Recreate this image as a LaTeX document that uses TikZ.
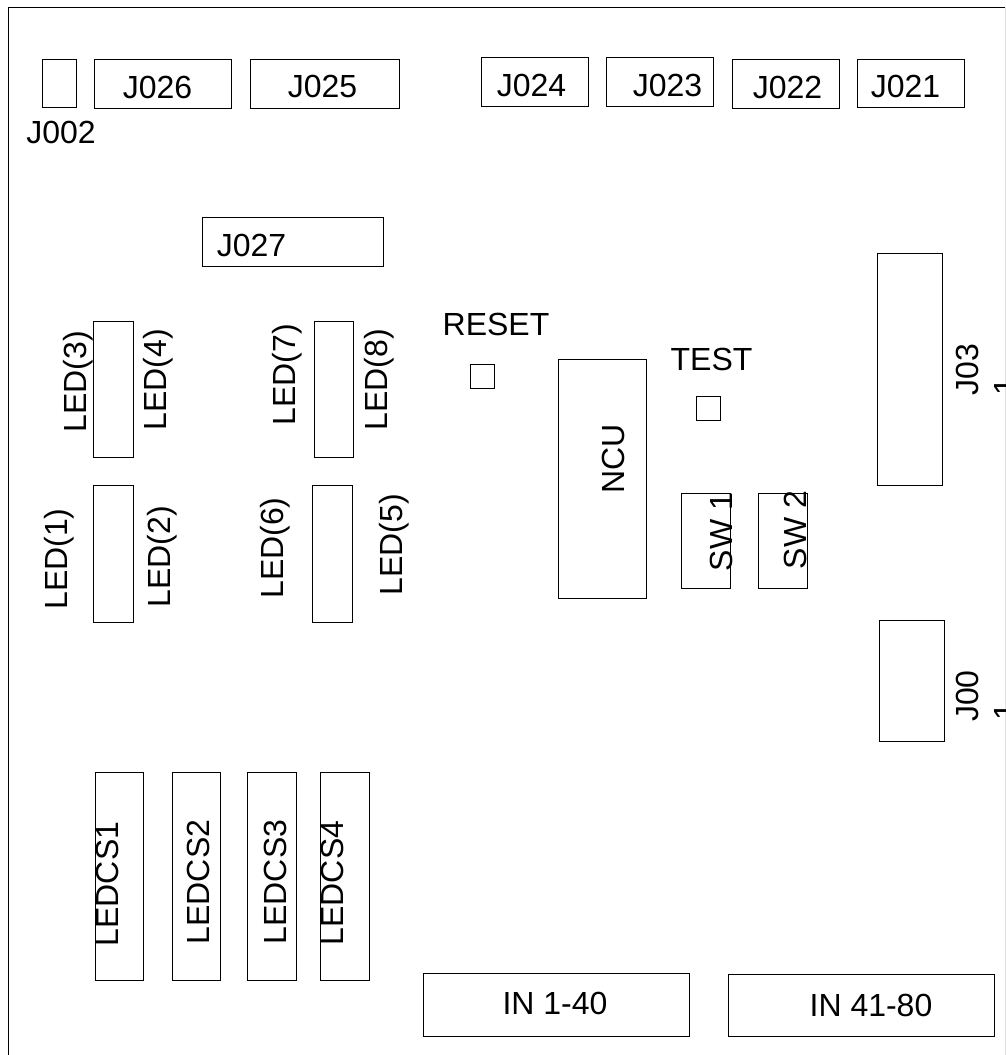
\documentclass[tikz,border=0pt]{standalone}
\usepackage{fontspec}
\setmainfont{Liberation Sans}
\tikzset{
  x=1pt,y=-1pt,
  part/.style={draw=black,line width=1pt,fill=none,inner sep=0pt,outer sep=0pt},
  lbl/.style={font=\fontsize{32}{32}\selectfont,inner sep=0pt,text height=23pt,text depth=0pt},
  vlbl/.style={lbl,rotate=90},
}
% name, left, top, right, bottom
\newcommand{\partbox}[5]{\node[part,minimum width={(#4)*1pt-(#2)*1pt},minimum height={(#5)*1pt-(#3)*1pt}] (#1) at ({(#2+#4)/2},{(#3+#5)/2}) {};}
\begin{document}
\begin{tikzpicture}
\useasboundingbox (0,0) rectangle (1006,1055);
\clip (0,0) rectangle (1006,1055);
\fill[white] (0,0) rectangle (1006,1055);
\draw[line width=1pt,black!12] (1005,7) -- (1005,1060);
\draw[line width=1pt] (8,1060) -- (8,7) -- (1005,7);
\partbox{bj002}{42}{59}{76}{107}
\partbox{bj026}{94}{59}{231}{108}
\partbox{bj025}{250}{59}{399}{108}
\partbox{bj024}{481}{57}{588}{106}
\partbox{bj023}{606}{57}{713}{106}
\partbox{bj022}{732}{59}{839}{108}
\partbox{bj021}{857}{59}{964}{107}
\partbox{bj027}{202}{217}{383}{266}
\partbox{bled34}{93}{321}{133}{457}
\partbox{bled78}{314}{321}{353}{457}
\partbox{bled12}{93}{485}{133}{622}
\partbox{bled65}{312}{485}{352}{622}
\partbox{breset}{470}{364}{494}{388}
\partbox{bncu}{558}{359}{646}{598}
\partbox{btest}{696}{396}{720}{420}
\partbox{bsw1}{681}{493}{730}{588}
\partbox{bsw2}{758}{493}{807}{588}
\partbox{bj03}{877}{253}{942}{485}
\partbox{bj00}{879}{620}{944}{741}
\partbox{bcs1}{95}{772}{143}{980}
\partbox{bcs2}{172}{772}{220}{980}
\partbox{bcs3}{247}{772}{296}{980}
\partbox{bcs4}{320}{772}{369}{980}
\partbox{bin1}{423}{973}{689}{1036}
\partbox{bin2}{728}{974}{994}{1036}
\node[lbl] (tj002) at (61,132) {J002};
\node[lbl] (tj026) at (157.5,86.5) {J026};
\node[lbl] (tj025) at (322.5,86) {J025};
\node[lbl] (tj024) at (531.5,85) {J024};
\node[lbl] (tj023) at (667.5,84.5) {J023};
\node[lbl] (tj022) at (787.5,87) {J022};
\node[lbl] (tj021) at (905.5,85.5) {J021};
\node[lbl] (tj027) at (251.5,245) {J027};
\node[lbl] (treset) at (496,324) {RESET};
\node[lbl] (ttest) at (711.5,359) {TEST};
\node[lbl] (tin1) at (555,1002.5) {IN 1-40};
\node[lbl] (tin2) at (871,1005) {IN 41-80};
\node[vlbl] (tled3) at (75,382) {LED(3)};
\node[vlbl] (tled4) at (154.5,380) {LED(4)};
\node[vlbl] (tled7) at (283.5,375) {LED(7)};
\node[vlbl] (tled8) at (376,380) {LED(8)};
\node[vlbl] (tled1) at (55.5,559) {LED(1)};
\node[vlbl] (tled2) at (159,557) {LED(2)};
\node[vlbl] (tled6) at (271.5,548) {LED(6)};
\node[vlbl] (tled5) at (391,545) {LED(5)};
\node[vlbl] (tncu) at (612.5,459) {NCU};
\node[vlbl] (tsw1) at (721,532) {SW 1};
\node[vlbl] (tsw2) at (795,530) {SW 2};
\node[vlbl] (tj03) at (966.5,369.5) {J03};
\node[vlbl] (tj00) at (966.5,696) {J00};
\node[vlbl] (tone1) at (1004.5,387) {1};
\node[vlbl] (tone2) at (1004.5,712) {1};
\node[vlbl] (tcs1) at (107,884) {LEDCS1};
\node[vlbl] (tcs2) at (198,882) {LEDCS2};
\node[vlbl] (tcs3) at (275,882) {LEDCS3};
\node[vlbl] (tcs4) at (332,883) {LEDCS4};
\end{tikzpicture}
\end{document}
